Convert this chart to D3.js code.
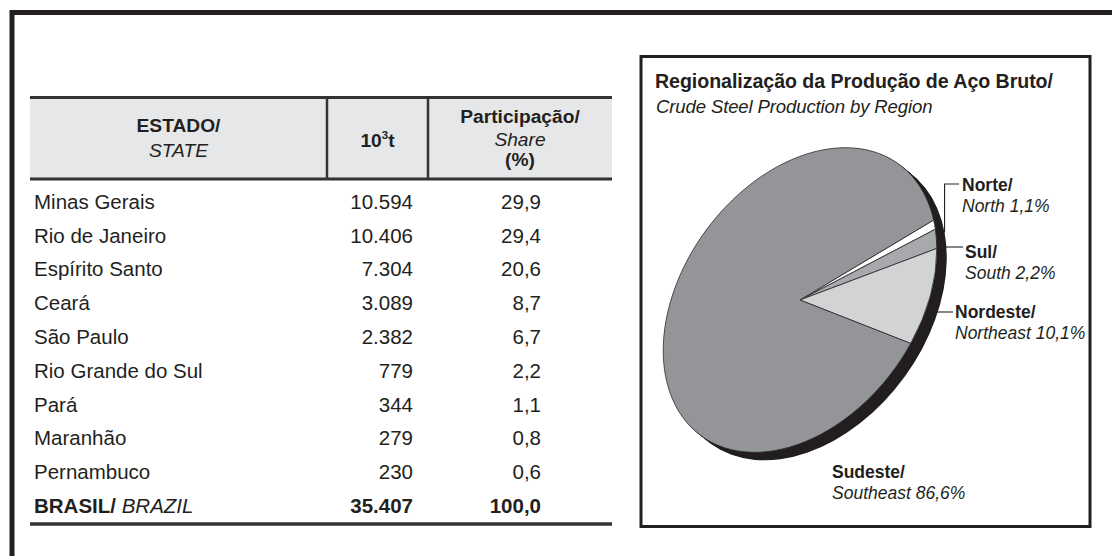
<!DOCTYPE html>
<html>
<head>
<meta charset="utf-8">
<script src="https://cdn.jsdelivr.net/npm/d3@7"></script>
<style>
  html, body { margin: 0; padding: 0; background: #fff; }
  svg { display: block; font-family: "Liberation Sans", Arial, sans-serif; }
</style>
</head>
<body>
<svg id="chart" width="1112" height="556"></svg>
<script>
// ---------------- DATA ----------------
const states = ["Minas Gerais", "Rio de Janeiro", "Espírito Santo", "Ceará", "São Paulo",
                "Rio Grande do Sul", "Pará", "Maranhão", "Pernambuco"];
const tonnes = [10594, 10406, 7304, 3089, 2382, 779, 344, 279, 230];
const shares = [29.9, 29.4, 20.6, 8.7, 6.7, 2.2, 1.1, 0.8, 0.6];
const totalLabelPt = "BRASIL/";
const totalLabelEn = " BRAZIL";

const regionsPt = ["Norte/", "Sul/", "Nordeste/", "Sudeste/"];
const regionsEn = ["North", "South", "Northeast", "Southeast"];
const regionShares = [1.1, 2.2, 10.1, 86.6];

const pieTitle = "Regionalização da Produção de Aço Bruto/";
const pieSubtitle = "Crude Steel Production by Region";

// ---------------- SETUP ----------------
const svg = d3.select("#chart");
const ink = "#231f20";
const loc = d3.formatLocale({decimal: ",", thousands: ".", grouping: [3], currency: ["", ""]});
const fmtInt = loc.format(",d");
const fmtPct = loc.format(".1f");

// outer frame
svg.append("path")
  .attr("d", "M12,556 L12,12.5 L1112,12.5")
  .attr("fill", "none").attr("stroke", ink).attr("stroke-width", 5);

// ---------------- TABLE ----------------
const tX0 = 30, tX1 = 612, col1 = 327, col2 = 428;
const hTop = 97.5, hBot = 179;
const t = svg.append("g");

t.append("rect").attr("x", tX0).attr("y", hTop).attr("width", tX1 - tX0).attr("height", hBot - hTop)
  .attr("fill", "#e6e7e8");
t.append("line").attr("x1", tX0).attr("x2", tX1).attr("y1", hTop).attr("y2", hTop)
  .attr("stroke", "#333").attr("stroke-width", 3);
t.append("line").attr("x1", tX0).attr("x2", tX1).attr("y1", hBot).attr("y2", hBot)
  .attr("stroke", "#333").attr("stroke-width", 3);
[col1, col2].forEach(x => t.append("line").attr("x1", x).attr("x2", x).attr("y1", hTop).attr("y2", hBot)
  .attr("stroke", "#333").attr("stroke-width", 2.5));

const hdr = (x, y, txt, bold, italic) => t.append("text").attr("x", x).attr("y", y)
  .attr("text-anchor", "middle").attr("font-size", 19.2).attr("fill", ink)
  .attr("font-weight", bold ? "bold" : "normal").attr("font-style", italic ? "italic" : "normal")
  .text(txt);
hdr((tX0 + col1) / 2, 132, "ESTADO/", true, false);
hdr((tX0 + col1) / 2, 157, "STATE", false, true);
const tt = t.append("text").attr("x", (col1 + col2) / 2).attr("y", 147).attr("text-anchor", "middle")
  .attr("font-size", 19.2).attr("font-weight", "bold").attr("fill", ink);
tt.append("tspan").text("10");
tt.append("tspan").attr("font-size", 11.5).attr("dy", -8).text("3");
tt.append("tspan").attr("dy", 8).text("t");
hdr((col2 + tX1) / 2, 123, "Participação/", true, false);
hdr((col2 + tX1) / 2, 146, "Share", false, true);
hdr((col2 + tX1) / 2, 166, "(%)", true, false);

const rows = states.map((s, i) => ({name: s, v: tonnes[i], p: shares[i], total: false}));
rows.push({name: totalLabelPt, v: d3.sum(tonnes), p: d3.sum(shares), total: true});

const yRow = d3.scalePoint().domain(d3.range(rows.length)).range([208.7, 512.9]);
const fs = 20.5;
rows.forEach((r, i) => {
  const y = yRow(i);
  const nt = t.append("text").attr("x", 34).attr("y", y).attr("font-size", fs).attr("fill", ink);
  if (r.total) {
    nt.append("tspan").attr("font-weight", "bold").text(r.name);
    nt.append("tspan").attr("font-style", "italic").text(totalLabelEn);
  } else nt.text(r.name);
  t.append("text").attr("x", 413).attr("y", y).attr("text-anchor", "end").attr("font-size", fs)
    .attr("fill", ink).attr("font-weight", r.total ? "bold" : "normal").text(fmtInt(r.v));
  t.append("text").attr("x", 541).attr("y", y).attr("text-anchor", "end").attr("font-size", fs)
    .attr("fill", ink).attr("font-weight", r.total ? "bold" : "normal").text(fmtPct(r.p));
});
t.append("line").attr("x1", tX0).attr("x2", tX1).attr("y1", 524).attr("y2", 524)
  .attr("stroke", "#333").attr("stroke-width", 3.5);

// ---------------- PIE PANEL ----------------
const p = svg.append("g");
p.append("rect").attr("x", 641).attr("y", 56.5).attr("width", 449).attr("height", 470)
  .attr("fill", "#fff").attr("stroke", ink).attr("stroke-width", 3);
p.append("text").attr("x", 655).attr("y", 88).attr("font-size", 19.6).attr("font-weight", "bold")
  .attr("letter-spacing", -0.05).attr("fill", ink).text(pieTitle);
p.append("text").attr("x", 656).attr("y", 113).attr("font-size", 18.6).attr("font-style", "italic")
  .attr("letter-spacing", -0.15).attr("fill", ink).text(pieSubtitle);

const cx = 800, cy = 300, A = 168, B = 117, phi = -54;
const k = B / A;
const depth = {dx: 10, dy: 8};
const colors = ["#ffffff", "#a7a9ac", "#d1d3d4", "#939598"];

const start = (90 + 31.5) * Math.PI / 180;
const pie = d3.pie().sort(null).value(d => d)
  .startAngle(start).endAngle(start + Math.PI * 2);
const arcs = pie(regionShares);
const arc = d3.arc().innerRadius(0).outerRadius(A);

// map local (unscaled) arc angle/radius to screen
const pr = phi * Math.PI / 180;
function toScreen(angle, r, off) {
  const lx = r * Math.sin(angle), ly = -r * Math.cos(angle) * k;
  return [cx + lx * Math.cos(pr) - ly * Math.sin(pr) + (off ? depth.dx : 0),
          cy + lx * Math.sin(pr) + ly * Math.cos(pr) + (off ? depth.dy : 0)];
}
// right-most x on the (shifted) rim at a given y
function rimXAt(Y) {
  let best = -Infinity;
  for (let i = 0; i < 7200; i++) {
    const a = i / 7200 * Math.PI * 2;
    const [x, y] = toScreen(a, A, true);
    if (Math.abs(y - Y) < 0.6 && x > best) best = x;
  }
  return best;
}

// depth (extruded black rim)
const full = arc({startAngle: 0, endAngle: Math.PI * 2});
const steps = 12;
for (let s = steps; s >= 1; s--) {
  p.append("path")
    .attr("transform", `translate(${cx + depth.dx * s / steps},${cy + depth.dy * s / steps}) rotate(${phi}) scale(1,${k})`)
    .attr("d", full).attr("fill", ink);
}
// top face
p.append("g").attr("transform", `translate(${cx},${cy}) rotate(${phi}) scale(1,${k})`)
  .selectAll("path").data(arcs).join("path")
  .attr("d", arc).attr("fill", (d, i) => colors[i])
  .attr("stroke", "#2b2b2b").attr("stroke-width", 0.8).attr("vector-effect", "non-scaling-stroke")
  .attr("stroke-linejoin", "round");

// labels
const labelLayout = [
  {x: 962, y: 191, lineY: 184, elbow: true},
  {x: 965, y: 258, lineY: 247},
  {x: 955, y: 318, lineY: 312},
  {x: 832, y: 478, none: true}
];
arcs.forEach((d, i) => {
  const L = labelLayout[i];
  if (!L.none) {
    let path;
    if (L.elbow) {
      const mid = (d.startAngle + d.endAngle) / 2;
      const [ax, ay] = toScreen(mid, A, true);
      path = `M${ax},${ay} L${ax},${L.lineY} L${L.x - 3},${L.lineY}`;
    } else {
      const rx = rimXAt(L.lineY);
      path = `M${rx - 1},${L.lineY} L${L.x - 2},${L.lineY}`;
    }
    p.append("path").attr("d", path).attr("fill", "none").attr("stroke", ink).attr("stroke-width", 1.1);
  }
  p.append("text").attr("x", L.x).attr("y", L.y).attr("font-size", 17.5).attr("font-weight", "bold")
    .attr("fill", ink).text(regionsPt[i]);
  p.append("text").attr("x", L.x).attr("y", L.y + 20.5).attr("font-size", 17.5).attr("font-style", "italic")
    .attr("fill", ink).text(`${regionsEn[i]} ${fmtPct(d.data)}%`);
});
</script>
</body>
</html>
